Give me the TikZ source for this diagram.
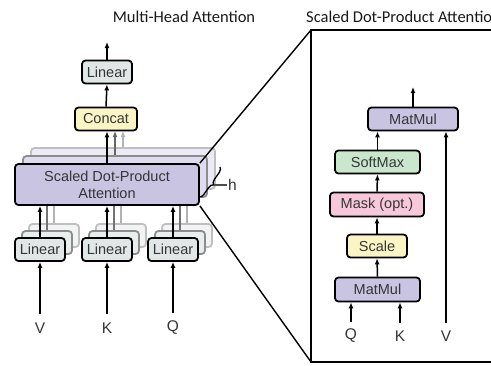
\documentclass[tikz,border=0pt]{standalone}
\usepackage{fontspec}
\setmainfont{Liberation Sans}
\newfontfamily\titlefont{Carlito}
\usetikzlibrary{arrows.meta,decorations.pathreplacing}

\definecolor{txt}{HTML}{353535}
\definecolor{lingray}{HTML}{E1E7E7}
\definecolor{attyellow}{HTML}{FBF5C6}
\definecolor{attpurple}{HTML}{C8C4E2}
\definecolor{attgreen}{HTML}{C9E7CC}
\definecolor{attpink}{HTML}{F7C7DA}

\tikzset{
  blk/.style={draw=black, line width=1.8pt, rounded corners=3.5pt, inner sep=0pt,
    text=txt, font=\fontsize{14.5}{17}\selectfont, align=center},
  ghostA/.style={blk, draw=black!45, text opacity=0},
  ghostB/.style={blk, draw=black!25, text opacity=0},
  flow/.style={line width=1.5pt, -{Latex[length=6pt,width=5pt]}},
  ghostflowA/.style={line width=1.4pt, draw=black!55},
  ghostflowB/.style={line width=1.4pt, draw=black!30},
  lbl/.style={text=txt, font=\fontsize{15.5}{17}\selectfont, inner sep=1pt},
  ttl/.style={text=black!90, font=\titlefont\fontsize{16.5}{19}\selectfont, inner sep=0pt},
  edgeline/.style={line width=1.4pt, draw=black}
}

\begin{document}
\begin{tikzpicture}[x=1pt, y=-1pt]
\useasboundingbox (0,0) rectangle (491,365);
\clip (0,0) rectangle (491,365);

% ---------- titles ----------
\node[ttl] (t1) at (184,17) {Multi-Head Attention};
\node[ttl, anchor=west] (t2) at (306,17) {Scaled Dot-Product Attention};

% ---------- stacked heads (back copies) ----------
\node[ghostB, fill=attpurple!35, minimum width=184pt, minimum height=41pt] (sdpaB) at (123,168.5) {};
\node[ghostA, fill=attpurple!60, minimum width=184pt, minimum height=41pt] (sdpaA) at (115,176.5) {};

% heads into concat (hidden copies)
\draw[flow, draw=black!30] (sdpaB.north) -- (sdpaB.north |- 0,131);
\draw[flow, draw=black!60] (sdpaA.north) -- (sdpaA.north |- 0,131);

\foreach \nm/\cx in {v/40, k/107, q/173}{
  \node[ghostB, fill=lingray!45, minimum width=50pt, minimum height=23pt] (l\nm B) at (\cx+14,235.5) {};
  \node[ghostA, fill=lingray!75, minimum width=50pt, minimum height=23pt] (l\nm A) at (\cx+7,242.5) {};
  \draw[ghostflowB] (l\nm B.north) -- (l\nm B.north |- sdpaB.south);
  \draw[ghostflowA] (l\nm A.north) -- (l\nm A.north |- sdpaA.south);
}

% ---------- front head ----------
\node[blk, fill=attpurple, minimum width=184pt, minimum height=41pt] (sdpa) at (107,184.5)
  {Scaled Dot-Product\\Attention};

\node[blk, fill=lingray, minimum width=50pt, minimum height=23pt] (lv) at (40,249.5) {Linear};
\node[blk, fill=lingray, minimum width=50pt, minimum height=23pt] (lk) at (107,249.5) {Linear};
\node[blk, fill=lingray, minimum width=50pt, minimum height=23pt] (lq) at (173,249.5) {Linear};

\node[blk, fill=attyellow, minimum width=62pt, minimum height=23pt] (concat) at (106,119) {Concat};
\node[blk, fill=lingray, minimum width=50pt, minimum height=23pt] (lout) at (107,72) {Linear};
\coordinate (out1) at (107,42);

% inputs
\node[lbl] (inV) at (40,328) {V};
\node[lbl] (inK) at (107,328) {K};
\node[lbl] (inQ) at (173,328) {Q};

\draw[flow, shorten <=7pt] (inV.north) -- (lv.south);
\draw[flow, shorten <=7pt] (inK.north) -- (lk.south);
\draw[flow, shorten <=7pt] (inQ.north) -- (lq.south);

\draw[flow] (lv.north) -- (lv.north |- sdpa.south);
\draw[flow] (lk.north) -- (lk.north |- sdpa.south);
\draw[flow] (lq.north) -- (lq.north |- sdpa.south);

\draw[flow] (sdpa.north) -- (sdpa.north |- concat.south);
\draw[flow] (concat.north) -- (lout.south);
\draw[flow] (lout.north) -- (out1);

% number of heads
\coordinate (braceTop) at (220,167);
\coordinate (braceBot) at (199,197);
\coordinate (braceTip) at (214,185);
\draw[decorate, decoration={brace, amplitude=5pt}, line width=1.3pt] (braceTop) -- (braceBot);
\node[lbl, anchor=west] (hh) at (227,185) {h};
\draw[line width=1.2pt, draw=black!70] (braceTip) -- (hh.west);

% ---------- zoom frame ----------
\coordinate (zoomTL) at (311,30);
\coordinate (zoomBL) at (311,362);
\coordinate (zoomBR) at (540,362);
\coordinate (zoomTR) at (540,30);
\draw[edgeline] (zoomBR) -- (zoomBL) -- (zoomTL) -- (zoomTR);
\draw[edgeline] (sdpa.north east) -- (zoomTL);
\draw[edgeline] (sdpa.south east) -- (zoomBL);

% ---------- scaled dot-product attention ----------
\node[blk, fill=attpurple, minimum width=90pt, minimum height=23pt] (mm2) at (413,119) {MatMul};
\node[blk, fill=attgreen, minimum width=85pt, minimum height=23pt] (smax) at (377.5,162) {SoftMax};
\node[blk, fill=attpink, minimum width=94pt, minimum height=24pt] (mask) at (377,204.5) {Mask (opt.)};
\node[blk, fill=attyellow, minimum width=60pt, minimum height=23pt] (scale) at (377,246) {Scale};
\node[blk, fill=attpurple, minimum width=85pt, minimum height=24pt] (mm1) at (377.5,289.5) {MatMul};
\coordinate (out2) at (413,87);

\node[lbl] (rQ) at (351,336) {Q};
\node[lbl] (rK) at (400,336) {K};
\node[lbl] (rV) at (446,336) {V};

\draw[flow, shorten <=6pt] (rQ.north) -- (rQ.north |- mm1.south);
\draw[flow, shorten <=6pt] (rK.north) -- (rK.north |- mm1.south);
\draw[flow, shorten <=6pt] (rV.north) -- (rV.north |- mm2.south);
\draw[flow] (mm1.north) -- (scale.south);
\draw[flow] (scale.north) -- (mask.south);
\draw[flow] (mask.north) -- (smax.south);
\draw[flow] (smax.north) -- (smax.north |- mm2.south);
\draw[flow] (mm2.north) -- (out2);
\end{tikzpicture}
\end{document}
